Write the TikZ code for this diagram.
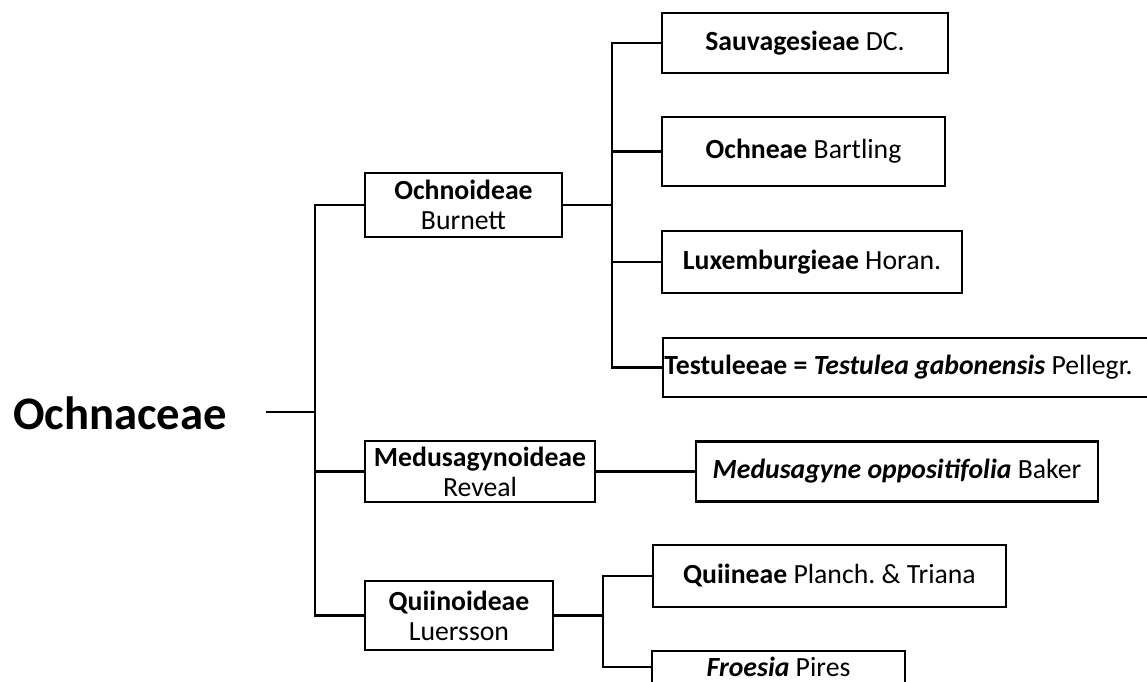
\documentclass[tikz,border=0pt]{standalone}
\usepackage{fontspec}
\setmainfont{Carlito}
\frenchspacing
\begin{document}
\begin{tikzpicture}[x=75pt,y=75pt,line width=1.7pt,
  taxon/.style={draw,align=center,inner sep=0pt,font=\fontsize{20.8}{22.5}\selectfont}]
\useasboundingbox (0,0) rectangle (11.47,6.82);

\node (fam) at (1.20,2.69) {\fontsize{35}{40}\selectfont\bfseries Ochnaceae};
\coordinate (r0) at (2.66,2.70);
\coordinate (j0) at (3.15,2.70);

\node[taxon,minimum width=147.75pt,minimum height=48pt] (ochnoid) at (4.635,4.77) {\bfseries Ochnoideae\\Burnett};
\node[taxon,minimum width=172.5pt,minimum height=45.75pt] (medusoid) at (4.80,2.105) {\bfseries Medusagynoideae\\Reveal};
\node[taxon,minimum width=141pt,minimum height=51.75pt] (quiinoid) at (4.59,0.665) {\bfseries Quiinoideae\\Luersson};

\coordinate (j1) at (6.12,4.77);
\node[taxon,minimum width=214.5pt,minimum height=45pt] (sauv) at (8.05,6.39) {\textbf{Sauvagesieae} DC.};
\node[taxon,minimum width=212.25pt,minimum height=51.75pt] (ochneae) at (8.035,5.305) {\textbf{Ochneae} Bartling};
\node[taxon,minimum width=225pt,minimum height=46.5pt] (luxem) at (8.12,4.20) {\textbf{Luxemburgieae} Horan.};
\node[taxon,anchor=west,inner xsep=1pt,minimum height=44.25pt] (testul) at (6.62,3.145)
  {\makebox[380pt][l]{\textbf{Testuleeae = \itshape Testulea gabonensis} Pellegr.}};

\node[taxon,minimum width=301.5pt,minimum height=45pt] (medusagyne) at (8.97,2.105) {\textbf{\itshape Medusagyne oppositifolia} Baker};

\coordinate (j2) at (6.03,0.665);
\node[taxon,minimum width=264.75pt,minimum height=46.5pt] (quiineae) at (8.295,1.06) {\textbf{Quiineae} Planch. \& Triana};
% box runs off the lower edge
\node[taxon,draw=none,anchor=north,minimum width=188.25pt,minimum height=22.5pt] (froesia) at (7.785,0.31) {\textbf{\itshape Froesia} Pires};
\draw ([yshift=-12pt]froesia.south west) |- (froesia.north east) -- ([yshift=-12pt]froesia.south east);

% family to subfamilies
\draw (r0) -- (j0);
\draw (ochnoid.west) -| (j0) |- (quiinoid.west);
\draw (j0) |- (medusoid.west);

% Ochnoideae tribes
\draw (ochnoid.east) -- (j1);
\draw (sauv.west) -| (j1) |- (testul.west);
\draw (j1) |- (ochneae.west);
\draw (j1) |- (luxem.west);

\draw (medusoid.east) -- (medusagyne.west);

% Quiinoideae
\draw (quiinoid.east) -- (j2);
\draw (quiineae.west) -| (j2) |- (froesia.west);
\end{tikzpicture}
\end{document}
